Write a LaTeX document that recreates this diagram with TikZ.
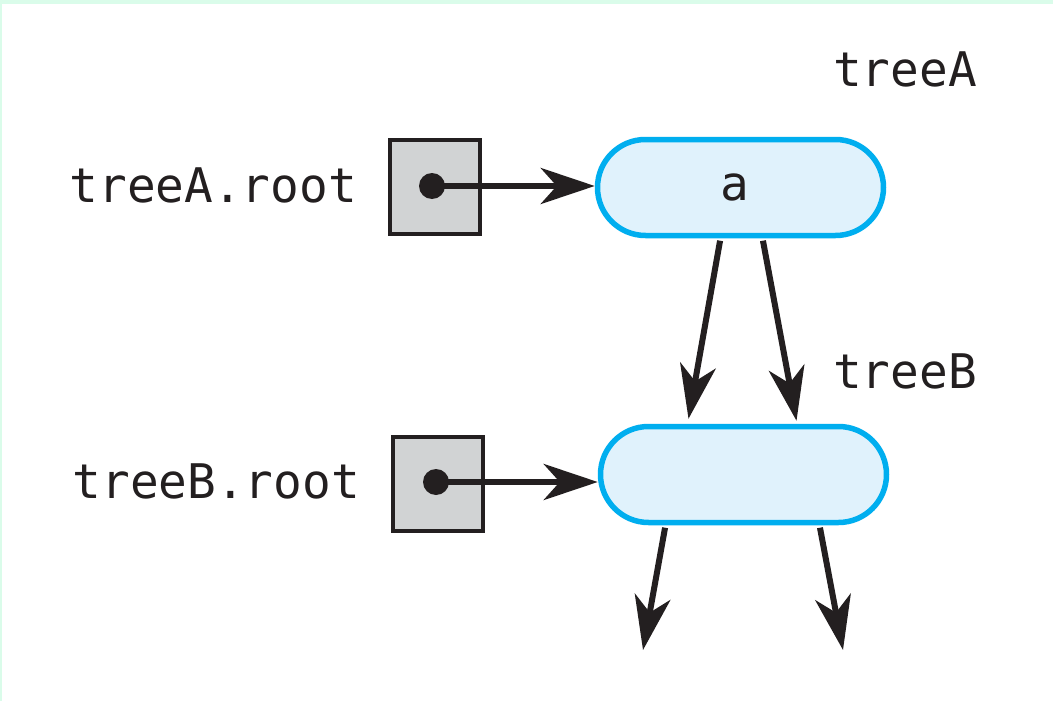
\documentclass[tikz,border=0pt]{standalone}
\usepackage{fontspec}
\setmonofont{DejaVu Sans Mono}
\usetikzlibrary{arrows.meta,shapes.misc,calc}
\definecolor{pillfill}{HTML}{E0F2FC}
\definecolor{pilledge}{HTML}{00AEEF}
\definecolor{boxfill}{HTML}{D1D3D4}
\definecolor{ink}{HTML}{231F20}
\definecolor{strip}{HTML}{DAFCEA}
\tikzset{
  pill/.style={rounded rectangle, draw=pilledge, fill=pillfill, line width=5.5pt,
    minimum width=286pt, minimum height=96pt, inner sep=0pt},
  refbox/.style={rectangle, draw=ink, fill=boxfill, line width=4pt,
    minimum width=90pt, minimum height=94pt, inner sep=0pt},
  dot/.style={circle, fill=ink, minimum size=26pt, inner sep=0pt},
  lbl/.style={font=\fontsize{47.7}{57}\selectfont\ttfamily, text=ink, inner sep=0pt},
  ptr/.style={draw=ink, line width=6pt,
    -{Stealth[length=54pt, width=36pt, inset=16pt]}},
}
\begin{document}
\begin{tikzpicture}[x=1pt, y=-1pt]
  \useasboundingbox (0,0) rectangle (1053,701);
  \fill[white] (0,0) rectangle (1053,701);
  % pale frame edges
  \fill[strip] (0,0) rectangle (1053,4);
  \fill[strip] (0,0) rectangle (1.5,701);

  % reference variables
  \node[refbox] (bA) at (435,187) {};
  \node[dot] (dA) at (432,186) {};
  \node[refbox] (bB) at (438,483.5) {};
  \node[dot] (dB) at (436,482) {};

  % tree nodes
  \node[pill] (pA) at (740.5,187.5) {};
  \node[lbl] (ta) at (735,187) {a};
  \node[pill] (pB) at (743.5,474.5) {};

  % labels
  \node[lbl, anchor=base east] (lA) at (357,202) {treeA.root};
  \node[lbl, anchor=base east] (lB) at (360,498) {treeB.root};
  \node[lbl, anchor=base west] (nA) at (833,87) {treeA};
  \node[lbl, anchor=base west] (nB) at (833,388) {treeB};

  % pointers
  \draw[ptr] (dA.center) -- (dA -| pA.west);
  \draw[ptr] (dB.center) -- (dB -| pB.west);
  \draw[ptr, shorten <=2.5pt] ($(pA.south)+(-20,0)$) -- ($(pB.north)+(-55,-5)$);
  \draw[ptr, shorten <=2.5pt] ($(pA.south)+(22,0)$) -- ($(pB.north)+(53,-3)$);
  \coordinate (cL) at (643,650);
  \coordinate (cR) at (843,650);
  \draw[ptr, shorten <=2.5pt] ($(pB.south)+(-78,0)$) -- (cL);
  \draw[ptr, shorten <=2.5pt] ($(pB.south)+(76,0)$) -- (cR);
\end{tikzpicture}
\end{document}
